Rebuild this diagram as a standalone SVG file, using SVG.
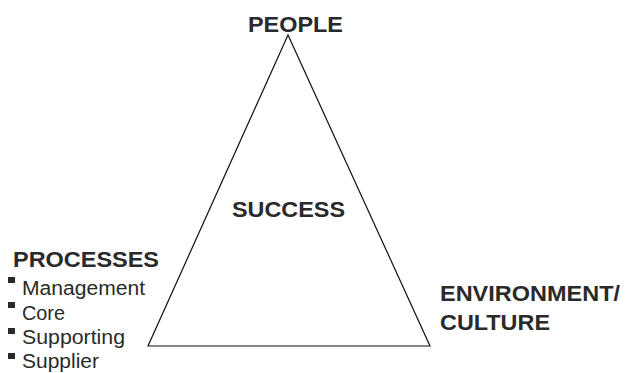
<svg xmlns="http://www.w3.org/2000/svg" width="625" height="373" viewBox="0 0 625 373">
<style>
.h{font-family:"Liberation Sans",Arial,sans-serif;font-weight:bold;font-size:22.5px;fill:#2a2a2a}
.t{font-family:"Liberation Sans",Arial,sans-serif;font-size:19.5px;fill:#2a2a2a}
.b{fill:#2a2a2a}
</style>
<rect width="625" height="373" fill="#fff"/>
<g id="connectors">
<polygon points="288,35 148,346 430,346" fill="none" stroke="#111" stroke-width="1.2"/>
</g>
<g id="people"><text class="h" x="248" y="32" textLength="95" lengthAdjust="spacingAndGlyphs">PEOPLE</text></g>
<g id="success"><text class="h" x="232" y="217" textLength="113" lengthAdjust="spacingAndGlyphs">SUCCESS</text></g>
<g id="processes">
<text class="h" x="13" y="267" textLength="146" lengthAdjust="spacingAndGlyphs">PROCESSES</text>
<rect class="b" x="8" y="277" width="7" height="6"/>
<text class="t" x="22" y="295" textLength="123" lengthAdjust="spacingAndGlyphs">Management</text>
<rect class="b" x="8" y="302" width="7" height="6"/>
<text class="t" x="22" y="320" textLength="43" lengthAdjust="spacingAndGlyphs">Core</text>
<rect class="b" x="8" y="328" width="7" height="6"/>
<text class="t" x="22" y="344" textLength="103" lengthAdjust="spacingAndGlyphs">Supporting</text>
<rect class="b" x="8" y="353" width="7" height="6"/>
<text class="t" x="22" y="368" textLength="77" lengthAdjust="spacingAndGlyphs">Supplier</text>
</g>
<g id="environment">
<text class="h" x="440" y="301" textLength="180" lengthAdjust="spacingAndGlyphs">ENVIRONMENT/</text>
<text class="h" x="440" y="330" textLength="110" lengthAdjust="spacingAndGlyphs">CULTURE</text>
</g>
</svg>
